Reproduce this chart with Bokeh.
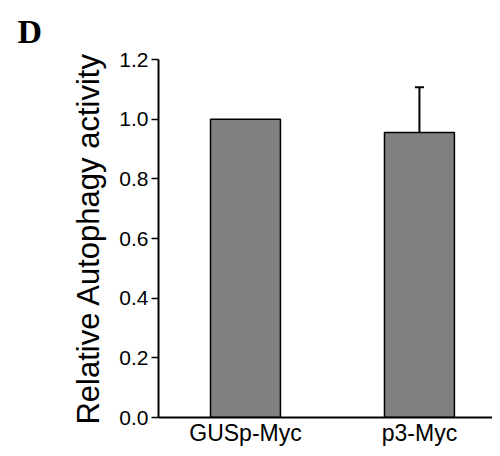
from bokeh.plotting import figure
from bokeh.models import Range1d, FixedTicker, Whisker, ColumnDataSource, Title, TeeHead
from bokeh.embed import file_html
from bokeh.resources import INLINE

categories = ["GUSp-Myc", "p3-Myc"]
values = [1.0, 0.955]
errors = [0.0, 0.152]
y_ticks = [0.0, 0.2, 0.4, 0.6, 0.8, 1.0, 1.2]

xs = [i + 0.5 for i in range(len(categories))]
upper = [v + e for v, e in zip(values, errors)]
src = ColumnDataSource(dict(x=xs, top=values, upper=upper))
err_src = ColumnDataSource(dict(x=[x for x, e in zip(xs, errors) if e > 0],
                                lower=[v for v, e in zip(values, errors) if e > 0],
                                upper=[u for u, e in zip(upper, errors) if e > 0]))

p = figure(width=492, height=448, output_backend="svg", toolbar_location=None,
           x_range=Range1d(0, 1.92), y_range=Range1d(0, 1.2),
           min_border_left=158, min_border_right=0, min_border_top=59, min_border_bottom=28)
p.outline_line_color = None
p.xgrid.visible = False
p.ygrid.visible = False
p.background_fill_color = "white"

p.vbar(x="x", top="top", bottom=0, width=0.402, source=src,
       fill_color="#808080", line_color="black", line_width=1.5)

w = Whisker(base="x", lower="lower", upper="upper", source=err_src,
            line_color="black", line_width=2,
            upper_head=TeeHead(size=9, line_color="black", line_width=2), lower_head=None)
p.add_layout(w)

font = "Liberation Sans"
p.xaxis.ticker = FixedTicker(ticks=xs)
p.xaxis.major_label_overrides = {x: c for x, c in zip(xs, categories)}
p.xaxis.major_tick_out = 0
p.xaxis.major_tick_in = 0
p.xaxis.minor_tick_out = 0
p.xaxis.minor_tick_in = 0
p.xaxis.axis_line_width = 2
p.xaxis.major_label_text_font = font
p.xaxis.major_label_text_font_size = "23px"
p.xaxis.major_label_text_color = "black"
p.xaxis.major_label_standoff = 2

p.yaxis.ticker = FixedTicker(ticks=y_ticks)
p.yaxis.major_label_overrides = {t: f"{t:.1f}" for t in y_ticks}
p.yaxis.minor_tick_out = 0
p.yaxis.minor_tick_in = 0
p.yaxis.major_tick_in = 0
p.yaxis.major_tick_out = 7
p.yaxis.major_tick_line_width = 1.5
p.yaxis.axis_line_width = 2
p.yaxis.major_label_text_font = font
p.yaxis.major_label_text_font_size = "21px"
p.yaxis.major_label_text_color = "black"
p.yaxis.major_label_standoff = 3
p.yaxis.axis_label = "Relative Autophagy activity"
p.yaxis.axis_label_text_font = font
p.yaxis.axis_label_text_font_style = "normal"
p.yaxis.axis_label_text_font_size = "31px"
p.yaxis.axis_label_text_color = "black"
p.yaxis.axis_label_standoff = 10

p.add_layout(Title(text="D", align="left", offset=-141, standoff=20,
                   text_font="Liberation Serif", text_font_style="bold",
                   text_font_size="34px", text_color="black"), "above")

open("out.html", "w").write(file_html(p, INLINE))
